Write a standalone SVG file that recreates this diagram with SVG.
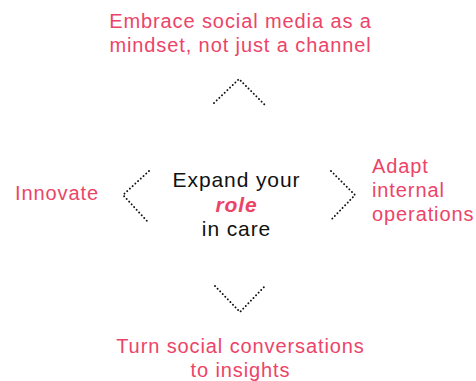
<svg xmlns="http://www.w3.org/2000/svg" width="476" height="381" viewBox="0 0 476 381">
<style>
.t{font-family:"Liberation Sans",Arial,sans-serif;font-size:20px;letter-spacing:0.9px;}
.c{font-size:21px;letter-spacing:0.9px;}
.p{fill:#EC4468;}
.k{fill:#111111;}
.d{fill:none;stroke:#111111;stroke-width:1.9;stroke-dasharray:0.1 3.6;stroke-linecap:round;}
</style>
<rect width="476" height="381" fill="#ffffff"/>
<g id="center">
<text class="t c k" x="236.5" y="187" text-anchor="middle">Expand your</text>
<text class="t c p" x="236.5" y="212" text-anchor="middle" font-weight="bold" font-style="italic">role</text>
<text class="t c k" x="236.5" y="236" text-anchor="middle">in care</text>
</g>
<g id="top">
<text class="t p" x="240.5" y="28" text-anchor="middle">Embrace social media as a</text>
<text class="t p" x="240.5" y="52" text-anchor="middle">mindset, not just a channel</text>
</g>
<g id="left">
<text class="t p" x="15" y="200">Innovate</text>
</g>
<g id="right">
<text class="t p" x="372" y="173">Adapt</text>
<text class="t p" x="372" y="197">internal</text>
<text class="t p" x="372" y="221">operations</text>
</g>
<g id="bottom">
<text class="t p" x="240.5" y="353" text-anchor="middle">Turn social conversations</text>
<text class="t p" x="240.5" y="377" text-anchor="middle">to insights</text>
</g>
<g id="connectors">
<polyline class="d" points="214,103 239,79 265,105"/>
<polyline class="d" points="149,171 123,195 147,221"/>
<polyline class="d" points="331,171 355,195 330,221"/>
<polyline class="d" points="215,286 240,312 265,286"/>
</g>
</svg>
